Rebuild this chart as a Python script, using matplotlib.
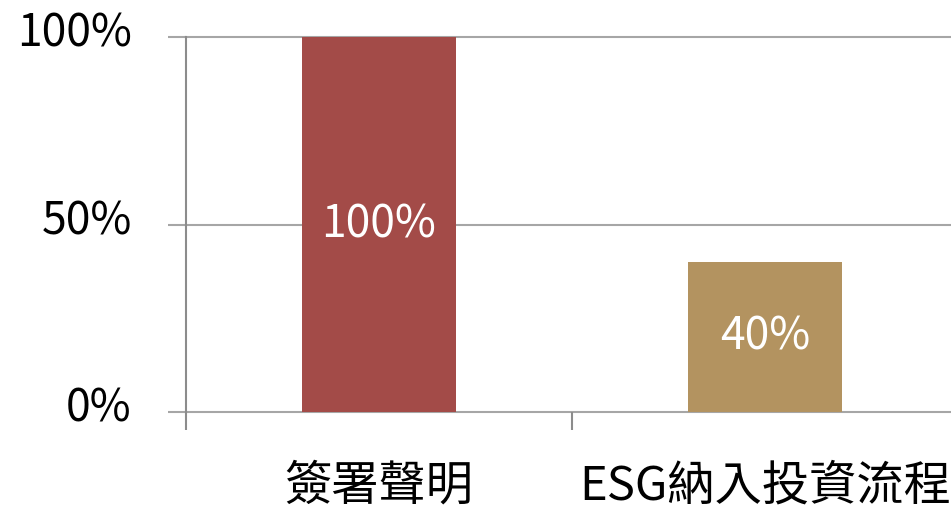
import matplotlib
matplotlib.use("Agg")
import matplotlib.pyplot as plt
from matplotlib.ticker import FixedLocator
from matplotlib.transforms import ScaledTranslation

plt.rcParams['font.family'] = ['Noto Sans CJK TC', 'DejaVu Sans']

categories = ["簽署聲明", "ESG納入投資流程"]
values = [100, 40]
bar_colors = ["#A34B48", "#B39360"]
y_ticks = [0, 50, 100]
y_tick_labels = ["0%", "50%", "100%"]

fig = plt.figure(figsize=(9.51, 5.13), dpi=100)
fig.patch.set_facecolor("white")
ax = fig.add_axes([186 / 951, 101 / 513, 772 / 951, 375 / 513])

x = list(range(len(categories)))
ax.bar(x, values, width=0.40, color=bar_colors, zorder=3)

# etiquetas dentro de las barras
for xi, v in zip(x, values):
    ax.text(xi, v / 2, f"{v}%", ha="center", va="center", color="white",
            fontsize=32, zorder=4)

ax.set_xlim(-0.5, 1.5)
ax.set_ylim(0, 100)
ax.set_yticks(y_ticks)
ax.set_yticklabels(y_tick_labels, fontsize=32)
ax.set_xticks(x)
ax.set_xticklabels(categories, fontsize=34)
ax.xaxis.set_minor_locator(FixedLocator([-0.5, 0.5, 1.5]))

ax.tick_params(axis="x", which="major", length=0, pad=36)
ax.tick_params(axis="x", which="minor", length=13, width=1.5, color="#8C8C8C", direction="out")
ax.tick_params(axis="y", length=13, width=1.5, color="#A6A6A6", pad=26)

# subir un poco las etiquetas del eje y
up = ScaledTranslation(0, 6 / 72, fig.dpi_scale_trans)
for lab in ax.get_yticklabels():
    lab.set_transform(lab.get_transform() + up)

for lvl in y_ticks:
    ax.axhline(lvl, color="#A6A6A6", linewidth=1.5, zorder=1, clip_on=False)

for side in ["top", "right", "bottom"]:
    ax.spines[side].set_visible(False)
ax.spines["left"].set_color("#8C8C8C")
ax.spines["left"].set_linewidth(1.5)

fig.savefig("out.png", dpi=100)
